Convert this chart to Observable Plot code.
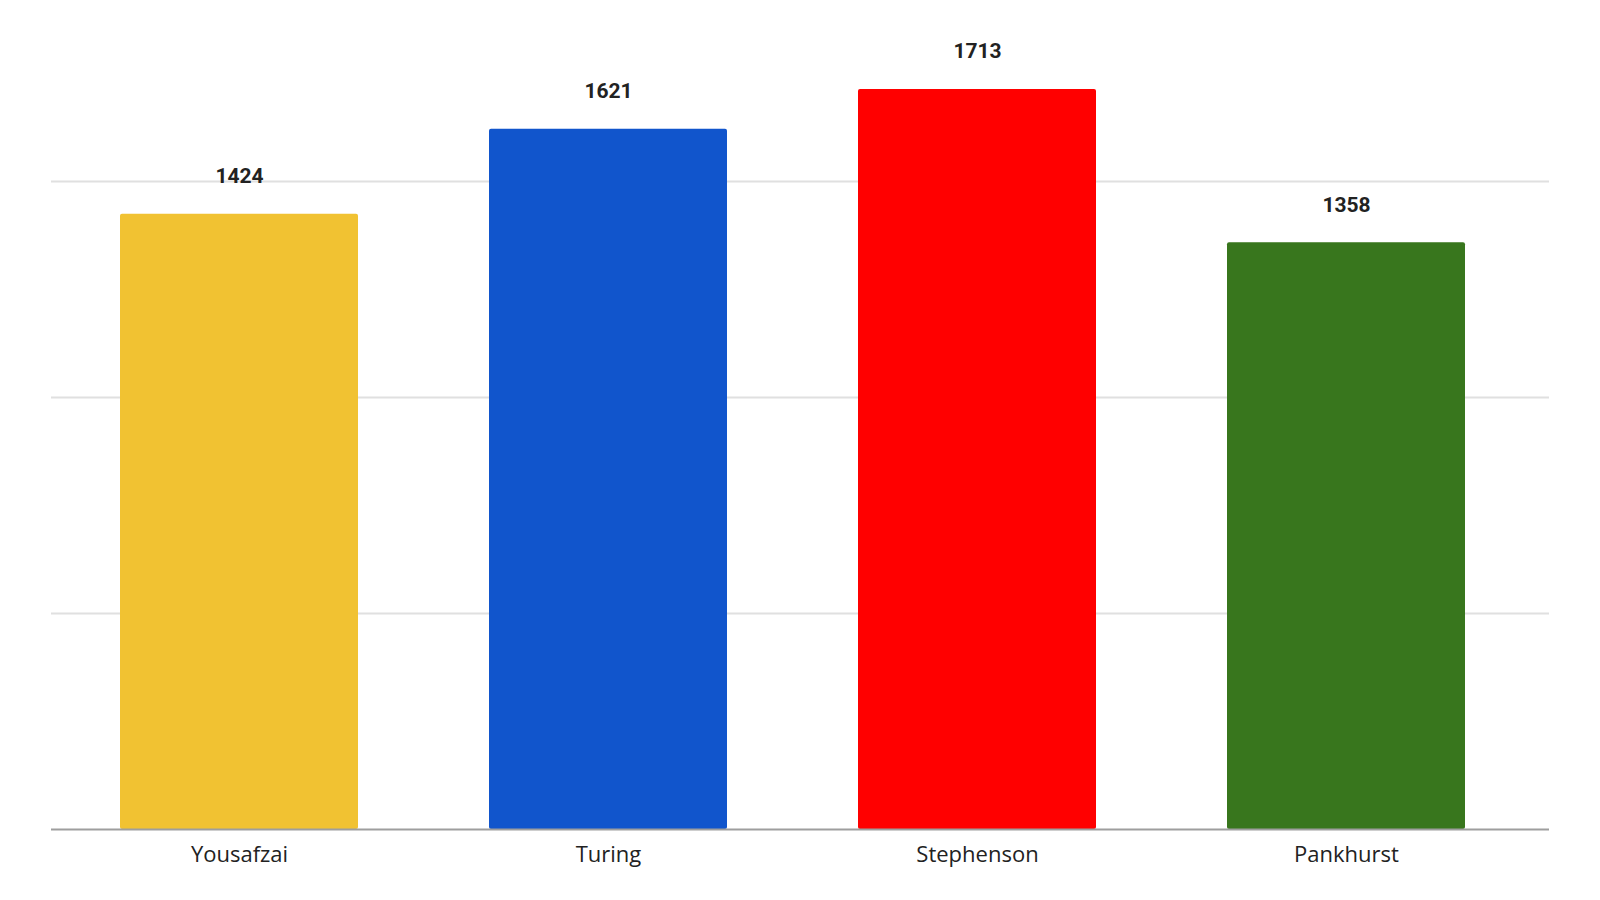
<!DOCTYPE html>
<html><head><meta charset="utf-8">
<script src="https://cdn.jsdelivr.net/npm/d3@7"></script>
<script src="https://cdn.jsdelivr.net/npm/@observablehq/plot@0.6"></script>
<style>html,body{margin:0;padding:0;overflow:hidden;background:#fff;font-family:Roboto,sans-serif}svg{display:block}</style>
</head><body><div id="chart"></div>
<script>
const names = ["Yousafzai", "Turing", "Stephenson", "Pankhurst"];
const values = [1424, 1621, 1713, 1358];
const colors = ["#f1c232", "#1155cc", "#ff0000", "#38761d"];
const gridTicks = [500, 1000, 1500];

const data = names.map((n, i) => ({name: n, value: values[i], color: colors[i]}));

const chart = Plot.plot({
  width: 1600,
  height: 900,
  marginLeft: 51,
  marginRight: 51,
  marginTop: 181,
  marginBottom: 71,
  style: {fontFamily: "Roboto, sans-serif", fontSize: "20px", color: "#222", background: "#fff", maxWidth: "none"},
  x: {domain: names, range: [54, 1532], paddingInner: 0.354, paddingOuter: 0.177, label: null},
  y: {domain: [0, 1500], axis: null},
  marks: [
    Plot.gridY(gridTicks, {stroke: "#e0e0e0", strokeOpacity: 1, strokeWidth: 2}),
    Plot.barY(data, {x: "name", y: "value", fill: "color", rx: 2}),
    Plot.ruleY([0], {stroke: "#9e9e9e", strokeWidth: 2}),
    Plot.text(data, {x: "name", y: "value", text: d => String(d.value), dy: -38, fontWeight: "bold", fontSize: 21, fill: "#222", fontFamily: "Roboto, sans-serif", style: {letterSpacing: "1px"}}),
    Plot.axisX({tickSize: 0, tickPadding: 17, fontSize: 22, fill: "#222", label: null, fontFamily: "'Open Sans', sans-serif"})
  ]
});
document.getElementById("chart").appendChild(chart);
</script></body></html>
